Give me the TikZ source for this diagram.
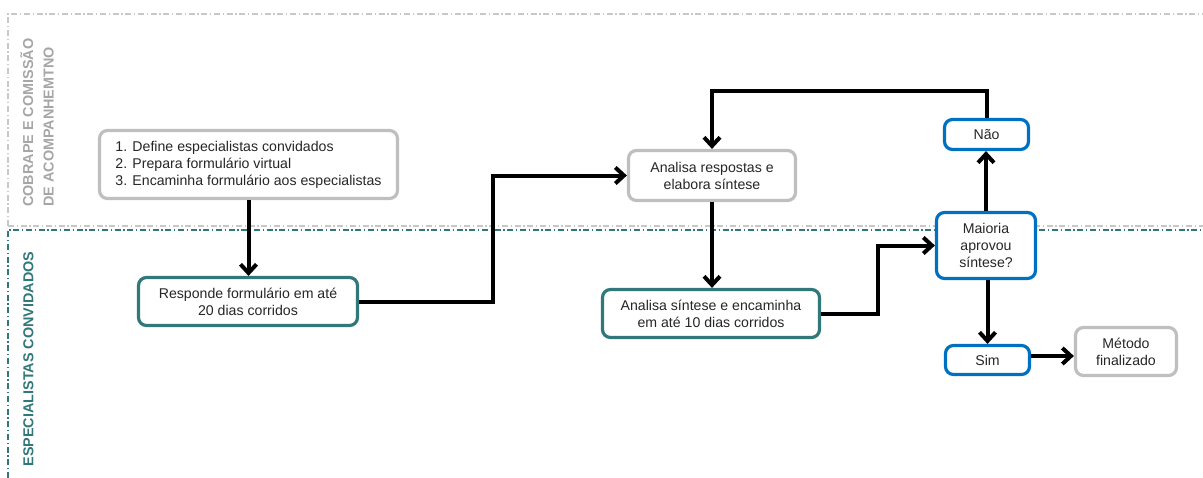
\documentclass[tikz,border=0pt]{standalone}
\usepackage{fontspec}
\setmainfont{Liberation Sans}
\usetikzlibrary{arrows.meta}
\definecolor{lanegray}{RGB}{200,200,200}
\definecolor{labelgray}{RGB}{166,166,166}
\definecolor{boxgray}{RGB}{191,191,191}
\definecolor{teal}{RGB}{49,120,122}
\definecolor{boxblue}{RGB}{0,112,192}
\definecolor{ink}{RGB}{38,38,38}

\begin{document}
\begin{tikzpicture}[x=0.75pt,y=-0.75pt,
    every node/.style={font=\fontsize{10.6}{12.7}\selectfont, text=ink},
    box/.style={draw, fill=white, line width=2.4pt, rounded corners=6pt, align=center, inner sep=2pt},
    graybox/.style={box, draw=boxgray},
    tealbox/.style={box, draw=teal},
    bluebox/.style={box, draw=boxblue},
    flow/.style={line width=3pt, -{Straight Barb[length=6.5pt,width=12pt]}},
    lane/.style={line width=0.8pt, dash pattern=on 4.5pt off 2pt on 1pt off 2pt}]
    \useasboundingbox (0,0) rectangle (1203,478);
    \draw[lane, lanegray] (8,226) -- (8,14) -- (1203,14);
    \draw[lane, lanegray] (8,226) -- (1203,226);
    \draw[lane, teal] (8,478) -- (8,230) -- (1203,230);
    \node[rotate=90, anchor=west, align=left, inner sep=0pt, text=labelgray, font=\fontsize{10.8}{15.5}\selectfont\bfseries] (l1) at (37,207) {COBRAPE E COMISSÃO\\DE ACOMPANHEMTNO};
    \node[rotate=90, inner sep=0pt, text=teal, font=\fontsize{10.8}{12.7}\selectfont\bfseries] (l2) at (28.5,359) {ESPECIALISTAS CONVIDADOS};

    \node[graybox, align=left, minimum width=223.5pt, minimum height=51pt] (1) at (248.5,164.5) {1. Define especialistas convidados\\2. Prepara formulário virtual\\3. Encaminha formulário aos especialistas};
    \node[tealbox, minimum width=164.25pt, minimum height=36pt] (2) at (248,301.5) {Responde formulário em até\\20 dias corridos};
    \node[graybox, minimum width=125.25pt, minimum height=37.5pt] (3) at (712,175.5) {Analisa respostas e\\elabora síntese};
    \node[tealbox, minimum width=162.75pt, minimum height=36pt] (4) at (711,313.5) {Analisa síntese e encaminha\\em até 10 dias corridos};
    \node[bluebox, minimum width=74.25pt, minimum height=49.5pt] (5) at (986,245.5) {Maioria\\aprovou\\síntese?};
    \node[bluebox, minimum width=63pt, minimum height=22.5pt] (6) at (986.5,134.5) {Não};
    \node[bluebox, minimum width=63pt, minimum height=21.75pt] (7) at (987.5,360) {Sim};
    \node[graybox, minimum width=75.75pt, minimum height=36pt] (8) at (1126,351.5) {Método\\finalizado};

    \draw[flow] (1.south) -- (1.south |- 2.north);
    \draw[flow] (2.east) -- ++(134,0) |- (3.west);
    \draw[flow] (3.south) -- (3.south |- 4.north);
    \draw[flow] (4.east) -- ++(57,0) |- (5.west);
    \draw[flow] (5.north) -- (5.north |- 6.south);
    \draw[flow] (6.north) -- ++(0,-27) -| (3.north);
    \draw[flow] (5.south -| 7.north) -- (7.north);
    \path ([yshift=3pt]7.east) coordinate (s1);
    \draw[flow] (s1) -- (s1 -| 8.west);
\end{tikzpicture}
\end{document}
